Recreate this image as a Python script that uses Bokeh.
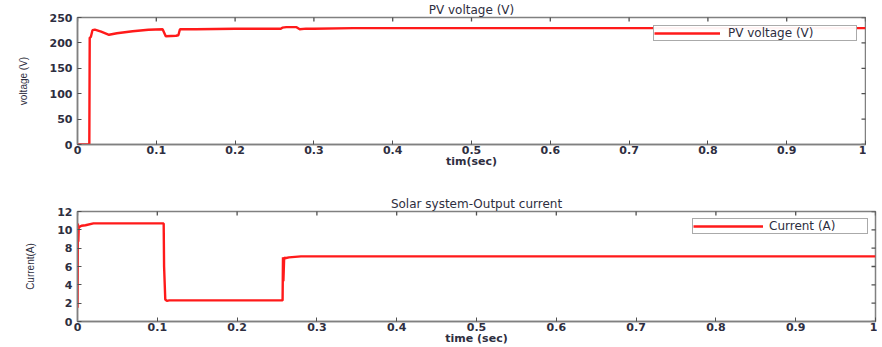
import math
from bokeh.plotting import figure
from bokeh.layouts import column
from bokeh.models import FixedTicker, Range1d, Legend, LegendItem
from bokeh.embed import file_html
from bokeh.resources import INLINE

# ---- data ----
t_volt = [0, 0.015, 0.0155, 0.017, 0.019, 0.022, 0.03, 0.04, 0.05, 0.07, 0.09,
          0.108, 0.11, 0.112, 0.125, 0.128, 0.13, 0.15, 0.2, 0.258, 0.26, 0.265,
          0.278, 0.282, 0.29, 0.3, 0.35, 1.0]
volt = [0, 0, 210, 212, 225, 226, 222, 216, 219, 223, 226,
        227, 220, 213, 214, 215, 227, 227, 228, 228, 230, 231,
        231, 227, 228, 228, 229, 229]

t_curr = [0, 0.0005, 0.001, 0.0015, 0.002, 0.003, 0.005, 0.01, 0.02, 0.05, 0.108,
          0.1085, 0.11, 0.112, 0.115, 0.2, 0.257, 0.2575, 0.258, 0.259, 0.26,
          0.265, 0.28, 1.0]
curr = [1.5, 10.7, 8.7, 10.2, 10.3, 10.35, 10.45, 10.5, 10.7, 10.7, 10.7,
        6.0, 2.4, 2.25, 2.3, 2.3, 2.3, 7.0, 4.4, 7.0, 6.9,
        7.0, 7.1, 7.1]

x_ticks = [0, 0.1, 0.2, 0.3, 0.4, 0.5, 0.6, 0.7, 0.8, 0.9, 1]
x_labels = {0: "0", 0.1: "0.1", 0.2: "0.2", 0.3: "0.3", 0.4: "0.4", 0.5: "0.5",
            0.6: "0.6", 0.7: "0.7", 0.8: "0.8", 0.9: "0.9", 1: "1"}
v_ticks = [0, 50, 100, 150, 200, 250]
i_ticks = [0, 2, 4, 6, 8, 10, 12]

FONT = "DejaVu Sans"
TXT = "#2e2e40"
FRAME = "#808080"
TICK = "#505050"


def style(p, yticks, ymax, xlabel, ylabel):
    p.outline_line_color = FRAME
    p.outline_line_width = 1.5
    p.xgrid.visible = False
    p.ygrid.visible = False
    for ax in (p.xaxis[0], p.yaxis[0]):
        ax.axis_line_color = FRAME
        ax.axis_line_width = 1.5
        ax.major_tick_in = 4
        ax.major_tick_out = 0
        ax.major_tick_line_color = TICK
        ax.minor_tick_line_color = None
        ax.major_label_text_font = FONT
        ax.major_label_text_font_size = "11px"
        ax.major_label_text_font_style = "bold"
        ax.major_label_text_color = TXT
        ax.axis_label_text_font = FONT
        ax.axis_label_text_color = TXT
        ax.axis_label_text_font_style = "normal"
    p.xaxis[0].ticker = FixedTicker(ticks=x_ticks)
    p.xaxis[0].major_label_overrides = x_labels
    p.xaxis[0].major_label_standoff = 1
    p.xaxis[0].axis_label = xlabel
    p.xaxis[0].axis_label_standoff = -2
    p.xaxis[0].axis_label_text_font_size = "11px"
    p.xaxis[0].axis_label_text_font_style = "bold"
    p.yaxis[0].ticker = FixedTicker(ticks=yticks)
    p.yaxis[0].major_label_standoff = 5
    p.yaxis[0].axis_label = ylabel
    p.yaxis[0].axis_label_standoff = 18
    p.yaxis[0].axis_label_text_font = "Liberation Sans"
    p.yaxis[0].axis_label_text_font_size = "10px"
    # inward ticks on the top and right edges of the box
    p.scatter(x_ticks, [ymax] * len(x_ticks), marker="dash", angle=math.pi / 2,
              size=8, line_color=TICK, line_width=1.3)
    p.scatter([1] * len(yticks), yticks, marker="dash",
              size=8, line_color=TICK, line_width=1.3)
    p.title.text_font = FONT
    p.title.text_font_size = "12px"
    p.title.text_font_style = "normal"
    p.title.text_color = TXT
    p.title.align = "center"
    p.title.standoff = 1


p1 = figure(frame_width=788, frame_height=127, output_backend="svg", toolbar_location=None,
            x_range=Range1d(0, 1), y_range=Range1d(0, 250),
            title="PV voltage (V)", min_border_left=76, min_border_right=2,
            min_border_top=17, min_border_bottom=26)
r1 = p1.line(t_volt, volt, line_color="#ff1a1a", line_width=2.4)
style(p1, v_ticks, 250, "tim(sec)", "voltage (V)")

p2 = figure(frame_width=798, frame_height=110, output_backend="svg", toolbar_location=None,
            x_range=Range1d(0, 1), y_range=Range1d(0, 12),
            title="Solar system-Output current", min_border_left=77, min_border_right=2,
            min_border_top=41, min_border_bottom=25)
r2 = p2.line(t_curr, curr, line_color="#ff1a1a", line_width=2.4)
style(p2, i_ticks, 12, "time (sec)", "Current(A)")

for p, r, lab, gw, lw, so, mg in ((p1, r1, "PV voltage (V)", 66, 128, 8, 8),
                                  (p2, r2, "Current (A)", 70, 98, 6, 7)):
    lg = Legend(items=[LegendItem(label=lab, renderers=[r])], location="top_right")
    lg.glyph_width = gw
    lg.glyph_height = 10
    lg.label_width = lw
    lg.label_text_font = FONT
    lg.label_text_font_size = "12px"
    lg.label_text_line_height = 1.0
    lg.label_text_color = TXT
    lg.border_line_color = "#555"
    lg.border_line_width = 1.5
    lg.padding = 0
    lg.margin = mg
    lg.spacing = 0
    lg.label_standoff = so
    lg.label_height = 12
    p.add_layout(lg, "center")

layout = column(p1, p2, spacing=0)
open("out.html", "w").write(file_html(layout, INLINE))
